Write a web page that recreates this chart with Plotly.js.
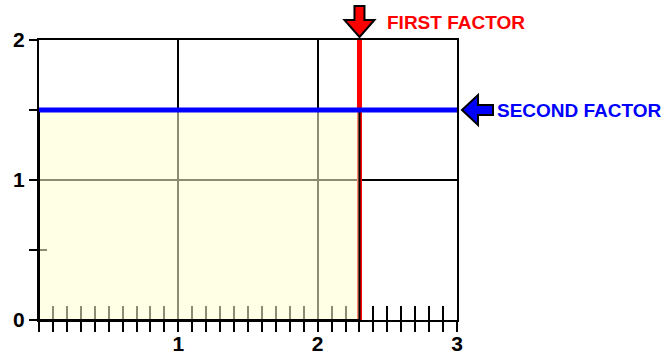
<!DOCTYPE html>
<html>
<head>
<meta charset="utf-8">
<script src="https://cdn.plot.ly/plotly-3.0.1.min.js"></script>
<style>html,body{margin:0;padding:0;background:#fff;}#chart{width:665px;height:355px;}</style>
</head>
<body>
<div id="chart"></div>
<script>
// ---- data ----
var xRange = [0, 3];
var yRange = [0, 2];
var xTickVals = [0, 1, 2, 3];
var xTickText = ['', '1', '2', '3'];
var yTickVals = [0, 1, 2];
var yTickText = ['0', '1', '2'];
var firstFactor = 2.3;   // vertical red line (x)
var secondFactor = 1.5;  // horizontal blue line (y)
var labels = ['FIRST FACTOR', 'SECOND FACTOR'];

// ---- layout helpers ----
var W = 665, H = 355;
var M = {l: 39, r: 208, t: 40, b: 35};
var PW = W - M.l - M.r, PH = H - M.t - M.b;
function xp(v) { return (v - xRange[0]) / (xRange[1] - xRange[0]); }
function yp(v) { return (v - yRange[0]) / (yRange[1] - yRange[0]); }
function polyPath(ax, ay, pts) {
  return pts.map(function (p, i) {
    return (i ? 'L' : 'M') + (ax + p[0] / PW).toFixed(5) + ',' + (ay + p[1] / PH).toFixed(5);
  }).join(' ') + ' Z';
}
var downArrow = [[0,0],[15,17],[5,17],[5,31],[-5,31],[-5,17],[-15,17]];
var leftArrow = [[0,0],[16,15],[16,5],[31,5],[31,-5],[16,-5],[16,-15]];

var font = 'Liberation Sans, Arial, sans-serif';

var data = [{
  x: [xRange[0]], y: [yRange[0]], type: 'scatter', mode: 'markers',
  marker: {opacity: 0}, hoverinfo: 'skip', showlegend: false
}, {
  x: [xRange[0]], y: [yRange[0]], xaxis: 'x2', yaxis: 'y2', type: 'scatter', mode: 'markers',
  marker: {opacity: 0}, hoverinfo: 'skip', showlegend: false
}];

var layout = {
  width: W, height: H,
  margin: M,
  paper_bgcolor: '#ffffff', plot_bgcolor: '#ffffff',
  showlegend: false,
  xaxis: {
    range: xRange, tickvals: xTickVals, ticktext: xTickText,
    ticks: 'outside', ticklen: 10, tickwidth: 2, tickcolor: '#000',
    ticklabelstandoff: -6,
    showgrid: true, gridcolor: '#000', gridwidth: 2,
    showline: true, linecolor: '#000', linewidth: 2, mirror: true,
    zeroline: false,
    minor: {dtick: 0.1, tick0: 0, ticks: 'outside', ticklen: 10, tickwidth: 2, tickcolor: '#000', showgrid: false},
    tickfont: {family: font, size: 21, color: '#000', weight: 'bold'}
  },
  xaxis2: {
    range: xRange, overlaying: 'x', anchor: 'y', side: 'bottom',
    tick0: 0, dtick: 0.1, ticks: 'inside', ticklen: 14, tickwidth: 2, tickcolor: '#000',
    showticklabels: false, showgrid: false, showline: false, zeroline: false
  },
  yaxis: {
    range: yRange, tickvals: yTickVals, ticktext: yTickText,
    ticks: 'outside', ticklen: 8, tickwidth: 2, tickcolor: '#000',
    showgrid: true, gridcolor: '#000', gridwidth: 2,
    showline: true, linecolor: '#000', linewidth: 2, mirror: true,
    zeroline: false,
    minor: {dtick: 0.5, tick0: 0, ticks: 'outside', ticklen: 8, tickwidth: 2, tickcolor: '#000', showgrid: false},
    tickfont: {family: font, size: 21, color: '#000', weight: 'bold'}
  },
  yaxis2: {
    range: yRange, overlaying: 'y', anchor: 'x', side: 'left',
    tickvals: [0.5], ticks: 'inside', ticklen: 8, tickwidth: 2, tickcolor: '#000',
    showticklabels: false, showgrid: false, showline: false, zeroline: false
  },
  shapes: [
    {type: 'line', xref: 'x', yref: 'y', layer: 'above',
     x0: firstFactor, x1: firstFactor, y0: yRange[0], y1: yRange[1],
     line: {color: '#ff0000', width: 5}},
    {type: 'rect', xref: 'x', yref: 'y', layer: 'above',
     x0: xRange[0], x1: firstFactor, y0: yRange[0], y1: secondFactor,
     fillcolor: 'rgba(255,255,210,0.55)', line: {color: '#000', width: 2}},
    {type: 'line', xref: 'x', yref: 'y', layer: 'above',
     x0: xRange[0], x1: xRange[1], y0: secondFactor, y1: secondFactor,
     line: {color: '#0000ff', width: 5}},
    {type: 'path', xref: 'paper', yref: 'paper', layer: 'above',
     path: polyPath(xp(firstFactor), yp(yRange[1]) + 3 / PH, downArrow),
     fillcolor: '#ff0000', line: {color: '#000', width: 2}},
    {type: 'path', xref: 'paper', yref: 'paper', layer: 'above',
     path: polyPath(xp(xRange[1]) + 5 / PW, yp(secondFactor), leftArrow),
     fillcolor: '#0000ff', line: {color: '#000', width: 2}}
  ],
  annotations: [
    {text: labels[0], xref: 'x', yref: 'y', x: firstFactor, y: yRange[1],
     xanchor: 'left', yanchor: 'middle', xshift: 26, yshift: 18, showarrow: false,
     font: {family: font, size: 19, color: '#ff0000', weight: 'bold'}},
    {text: labels[1], xref: 'x', yref: 'y', x: xRange[1], y: secondFactor,
     xanchor: 'left', yanchor: 'middle', xshift: 38, yshift: 0, showarrow: false,
     font: {family: font, size: 19, color: '#0000ff', weight: 'bold'}}
  ]
};

Plotly.newPlot('chart', data, layout, {staticPlot: true, displayModeBar: false});
</script>
</body>
</html>
